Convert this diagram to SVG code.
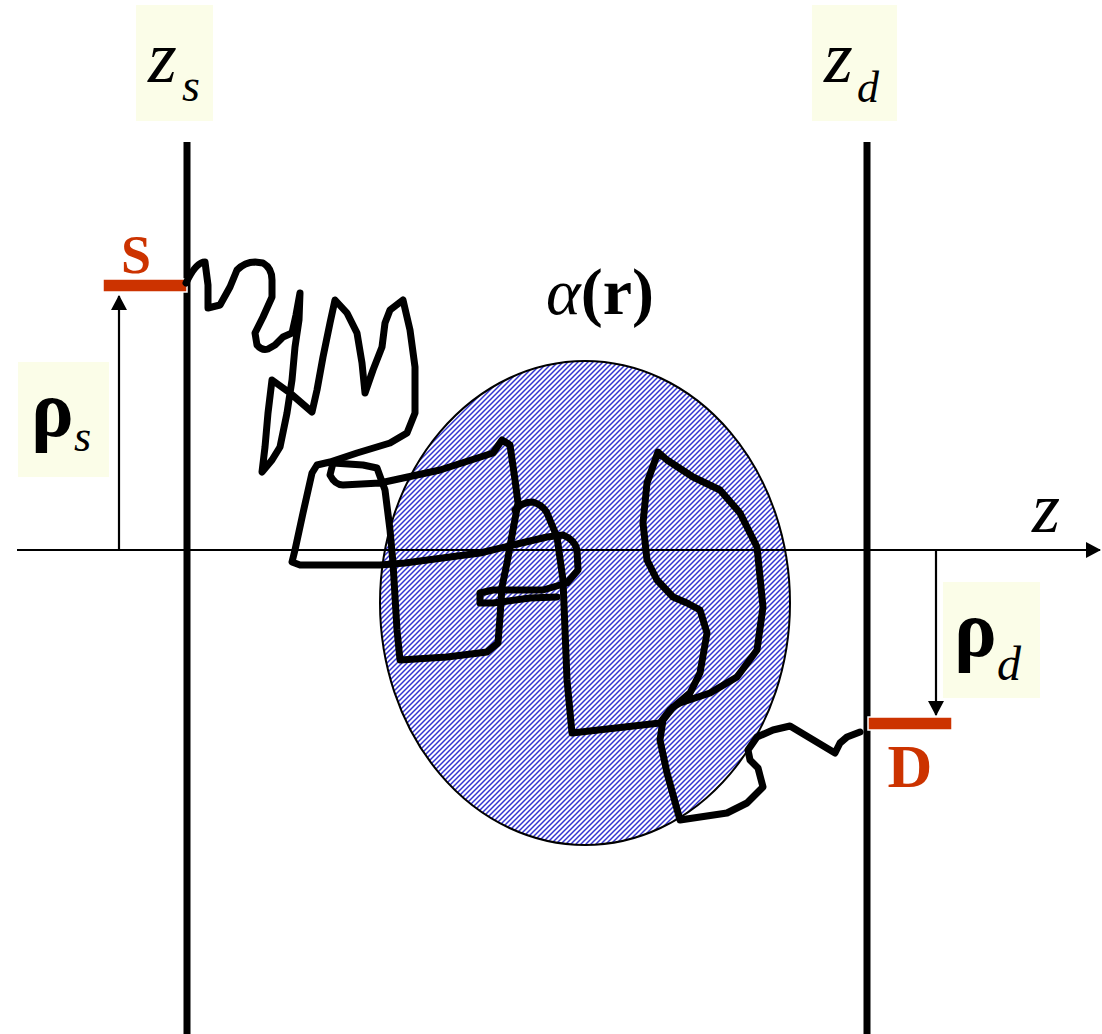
<svg xmlns="http://www.w3.org/2000/svg" width="1102" height="1034" viewBox="0 0 1102 1034">
<style>
.lbl{fill:#fbfde8}
.it{font-family:"Liberation Serif","Times New Roman",serif;font-style:italic;fill:#000}
.bd{font-family:"Liberation Serif","Times New Roman",serif;font-weight:bold;fill:#000}
.red{font-family:"Liberation Serif","Times New Roman",serif;font-weight:bold;fill:#cc3300}
.wall{stroke:#000;stroke-width:7}
.bar{fill:#cc3300;stroke:#fff;stroke-width:1.5}
.conn{stroke:#000;stroke-width:2.2;fill:none}
.walk{fill:none;stroke:#000;stroke-width:7;stroke-linejoin:round;stroke-linecap:round}
</style>
<defs>
<pattern id="hatch" patternUnits="userSpaceOnUse" width="5" height="5">
<rect width="5" height="5" fill="#fff"/>
<path d="M-1,1 l2,-2 M0,5 l5,-5 M4,6 l2,-2" stroke="#3434d2" stroke-width="1.5"/>
</pattern>
<marker id="ah" markerWidth="16" markerHeight="16" refX="14" refY="8" orient="auto" markerUnits="userSpaceOnUse">
<path d="M0,0 L15,8 L0,16 Z" fill="#000"/>
</marker>
</defs>
<rect width="1102" height="1034" fill="#fff"/>

<g id="scatterer">
<ellipse cx="585" cy="603" rx="205" ry="242" fill="url(#hatch)" stroke="#000" stroke-width="2"/>
</g>

<g id="wall-source"><line class="wall" x1="187" y1="142" x2="187" y2="1034"/></g>
<g id="wall-detector"><line class="wall" x1="867" y1="142" x2="867" y2="1034"/></g>

<g id="connectors">
<line class="conn" x1="17" y1="550" x2="1100" y2="550" marker-end="url(#ah)"/>
<line class="conn" x1="119" y1="550" x2="119" y2="296" marker-end="url(#ah)"/>
<line class="conn" x1="936" y1="550" x2="936" y2="715" marker-end="url(#ah)"/>
</g>

<g id="label-zs">
<rect class="lbl" x="136" y="5" width="77" height="116"/>
<text class="it" x="148" y="82" font-size="74">z</text>
<text class="it" x="182" y="101" font-size="46">s</text>
</g>
<g id="label-zd">
<rect class="lbl" x="812" y="5" width="85" height="116"/>
<text class="it" x="824" y="82" font-size="74">z</text>
<text class="it" x="857" y="102" font-size="44">d</text>
</g>
<g id="label-rhos">
<rect class="lbl" x="18" y="362" width="91" height="115"/>
<text class="bd" x="31" y="436" font-size="80">ρ</text>
<text class="it" x="74" y="451" font-size="44">s</text>
</g>
<g id="label-rhod">
<rect class="lbl" x="943" y="582" width="97" height="116"/>
<text class="bd" x="954" y="656" font-size="80">ρ</text>
<text class="it" x="997" y="680" font-size="48">d</text>
</g>
<g id="label-alpha">
<text x="546" y="314" font-size="66"><tspan class="it">α</tspan><tspan class="bd">(r)</tspan></text>
</g>
<g id="label-z">
<text class="it" x="1032" y="532" font-size="72">z</text>
</g>

<g id="source">
<rect class="bar" x="103" y="279" width="84" height="13"/>
<text class="red" x="136" y="273" font-size="54" text-anchor="middle">S</text>
</g>
<g id="detector">
<rect class="bar" x="868" y="717" width="84" height="13"/>
<text class="red" x="910" y="787" font-size="62" text-anchor="middle">D</text>
</g>

<g id="random-walk">
<path class="walk" d="M186,283 Q196,262 205,262 L208,285 L208,308 L220,305 L230,287 L237,270 Q245,262 255,262 L263,263 Q272,268 272,280 L272,297 L263,317 L255,333 L257,345 Q262,351 268,349 L275,345 L283,337 L292,333 L296,315 L300,293 L299,320 L295,347 L292,380 L287,413 L280,447 L272,460 L262,472 L265,447 L268,413 L272,380 L290,393 L312,412 L317,390 L323,357 L330,323 L335,300 L347,313 L357,333 L362,363 L365,393 L373,370 L382,347 L385,323 L390,310 L403,300 L410,330 L415,367 L415,413 L407,433 L390,443 L357,453 L330,462 L317,465 L312,473 L303,513 L295,550 L292,562 L300,565 L380,565 L405,563 L480,553 L513,545 L547,537 L563,535 Q575,540 577,550 L578,570 L567,583 L543,590 L493,590 L480,593 L480,603 L493,603 L530,598 L557,597"/>
<path class="walk" d="M333,463 L330,475 Q335,485 343,485 L380,483 L440,470 L493,453 L502,440 L510,445 L515,480 L518,503 L513,530 L507,563 L502,587 L500,617 L498,643 L487,652 L447,657 L400,660 L397,630 L393,563 L390,530 L385,490 L377,468 L363,465 Z"/>
<path class="walk" d="M515,510 Q522,502 533,502 Q543,505 547,513 L557,537 L563,580 L565,630 L567,680 L572,733 L660,723 L670,710 L690,693 L700,673 L707,633 L700,610 L687,603 L673,597 L657,580 L647,560 L643,523 L647,483 L658,452 L667,460 L693,477 L720,490 L740,513 L757,547 L763,607 L757,650 L737,677 L710,693 L680,703 L673,707 L663,720 L660,740 L667,773 L680,820 L727,813 L747,803 L763,787 L758,768 L750,760 L748,750 L757,737 L773,730 L790,726 L835,753 L840,743 L847,737 L860,732"/>
</g>
</svg>
